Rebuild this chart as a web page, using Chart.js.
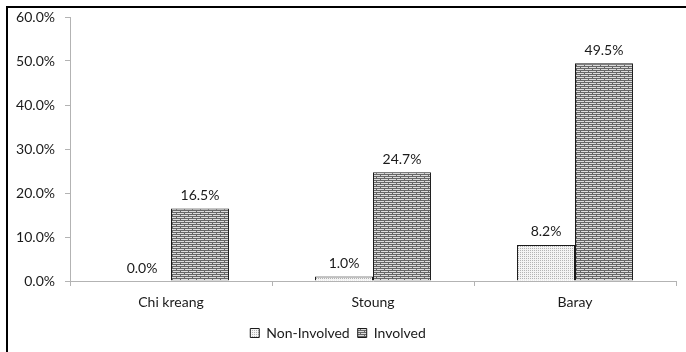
<!DOCTYPE html>
<html>
<head>
<meta charset="utf-8">
<script src="https://cdn.jsdelivr.net/npm/chart.js@4"></script>
<style>
  body { margin: 0; background: #fff; }
  #wrap { position: absolute; left: 0; top: 0; width: 686px; height: 352px; }
  #frame { position: absolute; left: 6px; top: 6px; width: 720px; height: 400px; border: 2px solid #000; pointer-events: none; }
</style>
</head>
<body>
<div id="wrap">
  <canvas id="chart" width="686" height="352"></canvas>
  <div id="frame"></div>
</div>
<script>
const categories = ['Chi kreang', 'Stoung', 'Baray'];
const nonInvolved = [0.0, 1.0, 8.2];
const involved = [16.5, 24.7, 49.5];
const yTicks = [0, 10, 20, 30, 40, 50, 60];

// little tile patterns, like the excel fills
function makePattern(w, h, paint) {
    const c = document.createElement('canvas');
    c.width = w;
    c.height = h;
    const g = c.getContext('2d');
    paint(g);
    return g.createPattern(c, 'repeat');
}

const dots = makePattern(2, 2, g => {
    g.fillStyle = '#f4f4f4';
    g.fillRect(0, 0, 2, 2);
    g.fillStyle = '#b4b4b4';
    g.fillRect(0, 0, 1, 1);
});

const bricks = makePattern(8, 4, g => {
    g.fillStyle = '#dcdcdc';
    g.fillRect(0, 0, 8, 4);
    g.fillStyle = '#666666';
    g.fillRect(0, 0, 8, 1);
    g.fillRect(0, 2, 8, 1);
    g.fillRect(0, 1, 1, 1);
    g.fillRect(4, 3, 1, 1);
});

const valueLabels = {
    id: 'valueLabels',
    afterDatasetsDraw(chart) {
        const ctx = chart.ctx;
        ctx.save();
        ctx.font = '14px Lato';
        ctx.fillStyle = '#1a1a1a';
        ctx.textAlign = 'center';
        ctx.textBaseline = 'middle';
        chart.data.datasets.forEach((ds, i) => {
            chart.getDatasetMeta(i).data.forEach((bar, j) => {
                ctx.fillText(ds.data[j].toFixed(1) + '%', bar.x, bar.y - 13);
            });
        });
        ctx.restore();
    }
};

Chart.defaults.font.family = 'Lato';
Chart.defaults.font.size = 14;
Chart.defaults.color = '#1a1a1a';

new Chart(document.getElementById('chart'), {
    type: 'bar',
    data: {
        labels: categories,
        datasets: [{
            label: 'Non-Involved',
            data: nonInvolved,
            backgroundColor: dots,
            borderColor: '#1a1a1a',
            borderWidth: 1
        }, {
            label: 'Involved',
            data: involved,
            backgroundColor: bricks,
            borderColor: '#1a1a1a',
            borderWidth: 1
        }]
    },
    options: {
        responsive: false,
        animation: false,
        layout: { padding: { top: 17, right: 10, bottom: 2, left: 0 } },
        datasets: {
            bar: { categoryPercentage: 0.574, barPercentage: 1.0 }
        },
        plugins: {
            legend: {
                position: 'bottom',
                labels: {
                    boxWidth: 9,
                    boxHeight: 9,
                    padding: 8,
                    font: { size: 14 }
                }
            },
            tooltip: { enabled: false }
        },
        scales: {
            x: {
                grid: {
                    drawOnChartArea: false,
                    tickLength: 5,
                    color: '#b3b3b3'
                },
                border: { color: '#b3b3b3' },
                ticks: { padding: 8 },
                afterFit: scale => { scale.height = 37; }
            },
            y: {
                min: 0,
                max: 60,
                afterBuildTicks: scale => {
                    scale.ticks = yTicks.map(v => ({ value: v }));
                },
                ticks: {
                    padding: 10,
                    callback: v => v.toFixed(1) + '%'
                },
                grid: {
                    drawOnChartArea: false,
                    tickLength: 5,
                    color: '#b3b3b3'
                },
                border: { color: '#b3b3b3' },
                afterFit: scale => {
                    scale.width = 70;
                    scale.paddingTop = 0;
                    scale.paddingBottom = 0;
                }
            }
        }
    },
    plugins: [valueLabels]
});
</script>
</body>
</html>
